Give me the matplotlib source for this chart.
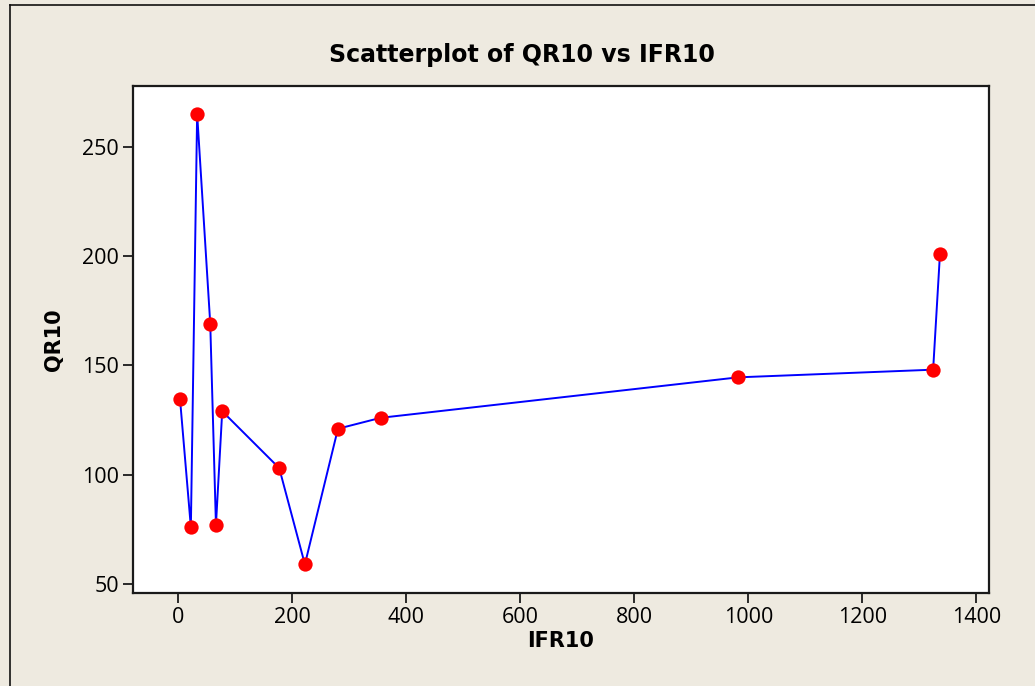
import matplotlib
matplotlib.use('Agg')
import matplotlib.pyplot as plt
from matplotlib.lines import Line2D

# IFR10 / QR10 pairs, in drawing order
ifr10 = [3, 22, 33, 56, 66, 77, 177, 222, 280, 355, 982, 1324, 1336]
qr10 = [134.5, 76, 265, 169, 77, 129, 103, 59, 121, 126, 144.5, 148, 201]

x_ticks = [0, 200, 400, 600, 800, 1000, 1200, 1400]
y_ticks = [50, 100, 150, 200, 250]

bg = '#EEEAE0'
W, H = 1035, 686

fig = plt.figure(figsize=(W / 100, H / 100), dpi=100, facecolor=bg)
ax = fig.add_axes([133 / W, 1 - 593 / H, (989 - 133) / W, (593 - 86) / H])
ax.set_facecolor('white')

ax.plot(ifr10, qr10, color='#0000FF', lw=1.4, zorder=2)
ax.plot(ifr10, qr10, 'o', color='#FF0000', ms=10.3, mec='none', zorder=3)

ax.set_xlim(-79.5, 1422)
ax.set_ylim(45.9, 277.7)
ax.set_xticks(x_ticks)
ax.set_yticks(y_ticks)

for s in ax.spines.values():
    s.set_linewidth(1.6)
    s.set_color('#1a1a1a')
ax.tick_params(direction='out', length=7, width=1.3, color='#1a1a1a',
               labelsize=15.5, pad=3)
for lab in ax.get_xticklabels() + ax.get_yticklabels():
    lab.set_family('Open Sans')

ax.set_xlabel('IFR10', fontsize=15, fontweight='bold', labelpad=2)
ax.set_ylabel('QR10', fontsize=15, fontweight='bold', labelpad=13)
fig.text(522 / W, 1 - 55 / H, 'Scatterplot of QR10 vs IFR10', ha='center',
         va='center', fontsize=17, fontweight='bold')

# outer frame (left and top edges visible)
fig.add_artist(Line2D([10 / W, 10 / W], [0, 1 - 5 / H], transform=fig.transFigure,
                      color='#111111', lw=1.2))
fig.add_artist(Line2D([10 / W, 1], [1 - 5 / H, 1 - 5 / H], transform=fig.transFigure,
                      color='#111111', lw=1.2))

fig.savefig('out.png', dpi=100, facecolor=bg)
